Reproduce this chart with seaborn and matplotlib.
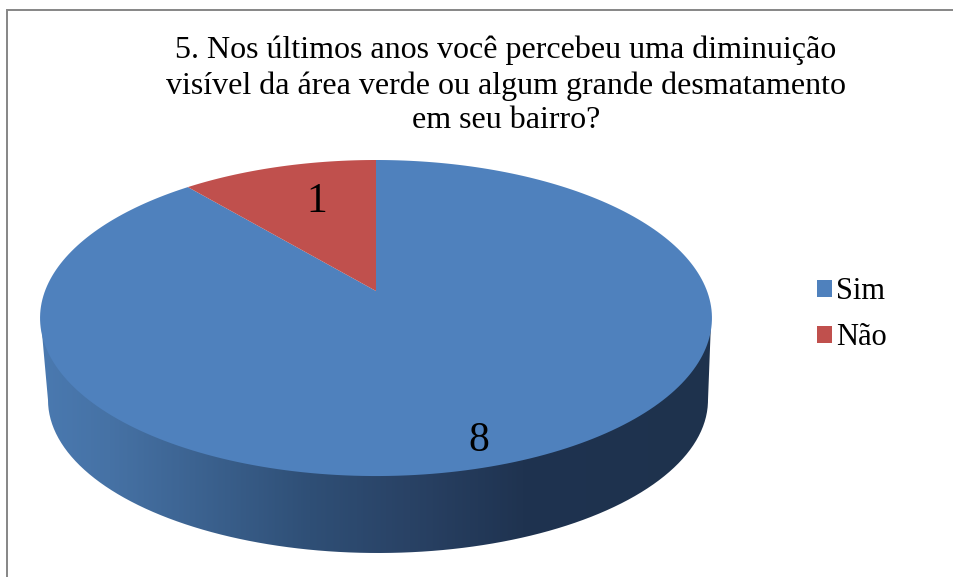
import numpy as np
import matplotlib
matplotlib.use("Agg")
import matplotlib.pyplot as plt
from matplotlib.colors import LinearSegmentedColormap
from matplotlib.path import Path
from matplotlib.patches import PathPatch
from matplotlib.transforms import Transform, Affine2D
import seaborn as sns

categories = ["Sim", "Não"]
values = [8, 1]
title_lines = ["5. Nos últimos anos você percebeu uma diminuição",
               "visível da área verde ou algum grande desmatamento",
               "em seu bairro?"]
palette = ["#4F81BD", "#C0504D"]

sns.set_theme(style="white")
plt.rcParams["font.family"] = ["Liberation Serif", "DejaVu Serif"]
plt.rcParams["text.color"] = "black"
W, H = 954, 577
fig = plt.figure(figsize=(W / 100, H / 100), dpi=100)
ax = fig.add_axes([0, 0, 1, 1])


class Tilt(Transform):
    """Perspective view of the flat unit pie, in pixel offsets around its apex."""
    input_dims = output_dims = 2
    def __init__(self, sx, sy, k):
        super().__init__()
        self.sx, self.sy, self.k = sx, sy, k
    def transform_non_affine(self, xy):
        xy = np.asarray(xy, float)
        d = 1 + self.k * xy[:, 1]
        return np.column_stack([self.sx * xy[:, 0] / d, -self.sy * xy[:, 1] / d])
    def transform_path_non_affine(self, path):
        # flatten the wedge's curves finely before bending them
        big = Affine2D().scale(2000).transform_path(path)
        poly = big.to_polygons(closed_only=True)[0] / 2000
        return Path(self.transform_non_affine(poly), closed=True)


wedges, _ = ax.pie(values, colors=sns.color_palette(palette), startangle=90,
                   counterclock=False, radius=1.0, labels=None)

ax.set_xlim(0, W)
ax.set_ylim(H, 0)
ax.set_aspect("auto")
ax.axis("off")

# perspective top face: apex at (376, 291)
tilt = Tilt(331, 153.4, 0.171) + Affine2D().translate(376, 291) + ax.transData
for w in wedges:
    w.set_transform(tilt)
    w.set_linewidth(0)
    w.set_zorder(3)

# side wall with a horizontal shading gradient, clipped to the silhouette
wall_cmap = LinearSegmentedColormap.from_list(
    "wall",
    [(0.0, "#4A79B0"), (0.10, "#4672A5"), (0.40, "#2F4F76"), (0.55, "#294265"),
     (0.72, "#1F3350"), (1.0, "#1E324D")])
im = ax.imshow(np.linspace(0, 1, 400)[None, :], cmap=wall_cmap, aspect="auto",
               extent=(41, 712, 560, 300), zorder=2, interpolation="bilinear")
t = np.linspace(np.pi, 0, 200)
bx = 378 + 330 * np.cos(t)
by = 400 + 153 * np.sin(t)
sil = np.vstack([[41, 322], np.column_stack([bx, by]), [711, 322], [41, 322]])
clip = PathPatch(Path(sil), transform=ax.transData, fc="none", ec="none")
ax.add_patch(clip)
im.set_clip_path(clip)
ax.set_xlim(0, W)
ax.set_ylim(H, 0)

# chart frame
ax.plot([7.5, 7.5, 954], [577, 9.5, 9.5], color="#868686", lw=1.4, zorder=1,
        solid_joinstyle="miter")

# title
for line, y in zip(title_lines, [58, 94, 128]):
    ax.text(506, y, line, ha="center", va="baseline", fontsize=23.05, color="black", zorder=5)

# data labels
for v, (x, y) in zip(values, [(479, 451), (317, 212)]):
    ax.text(x, y, str(v), ha="center", va="baseline", fontsize=30, color="black", zorder=5)

ax.legend(wedges, categories, loc="upper left", bbox_to_anchor=(808 / W, 1 - 268 / H),
          frameon=False, fontsize=22, handlelength=0.49, handleheight=0.49,
          handletextpad=0.14, labelspacing=0.55, borderpad=0.3, borderaxespad=0)

fig.savefig("out.png", dpi=100, facecolor="white")
